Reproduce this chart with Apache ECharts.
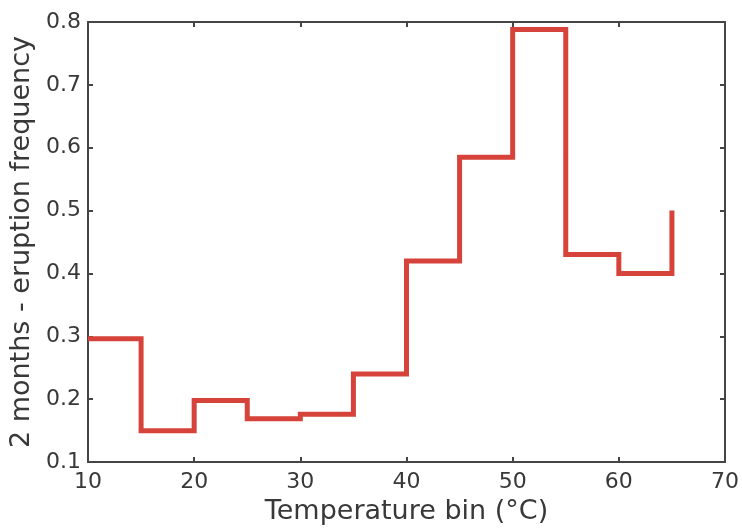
<!DOCTYPE html>
<html>
<head>
<meta charset="utf-8">
<script src="https://cdn.jsdelivr.net/npm/echarts@6/dist/echarts.min.js"></script>
<style>
  html, body { margin: 0; padding: 0; background: #fff; }
  #chart { width: 742px; height: 530px; }
</style>
</head>
<body>
<div id="chart"></div>
<script>
// bin left edges (°C) and stairs values; last point is the closing riser at 65
const binEdges = [10, 15, 20, 25, 30, 35, 40, 45, 50, 55, 60, 65];
const frequency = [0.296, 0.15, 0.198, 0.169, 0.176, 0.24, 0.42, 0.585, 0.788, 0.43, 0.4, 0.5];
const xTicks = [10, 20, 30, 40, 50, 60, 70];
const yTicks = [0.1, 0.2, 0.3, 0.4, 0.5, 0.6, 0.7, 0.8];

const axisColor = '#454545';
const fontFamily = 'DejaVu Sans, sans-serif';
const labelFont = { color: '#383838', fontSize: 22, fontFamily: fontFamily };
const nameFont = { color: '#383838', fontSize: 27, fontFamily: fontFamily };

const chart = echarts.init(document.getElementById('chart'));
const frameLine = { show: true, onZero: false, lineStyle: { color: axisColor, width: 2 } };
const tickIn = { show: true, inside: true, length: 5, lineStyle: { color: axisColor, width: 2 } };

chart.setOption({
  animation: false,
  grid: { left: 88, right: 15, top: 22, bottom: 65 },
  xAxis: [
    {
      type: 'value', min: xTicks[0], max: xTicks[xTicks.length - 1], interval: 10,
      axisLine: frameLine, axisTick: tickIn, splitLine: { show: false },
      axisLabel: Object.assign({ margin: 9 }, labelFont),
      name: 'Temperature bin (°C)', nameLocation: 'middle', nameGap: 34,
      nameTextStyle: nameFont
    },
    {
      type: 'value', position: 'top', min: xTicks[0], max: xTicks[xTicks.length - 1], interval: 10,
      axisLine: frameLine, axisTick: tickIn, axisLabel: { show: false }, splitLine: { show: false }
    }
  ],
  yAxis: [
    {
      type: 'value', min: yTicks[0], max: yTicks[yTicks.length - 1], interval: 0.1,
      axisLine: frameLine, axisTick: tickIn, splitLine: { show: false },
      axisLabel: Object.assign({ margin: 7, formatter: v => v.toFixed(1) }, labelFont),
      name: '2 months - eruption frequency', nameLocation: 'middle', nameGap: 46,
      nameTextStyle: nameFont
    },
    {
      type: 'value', position: 'right', min: yTicks[0], max: yTicks[yTicks.length - 1], interval: 0.1,
      axisLine: frameLine, axisTick: tickIn, axisLabel: { show: false }, splitLine: { show: false }
    }
  ],
  series: [{
    type: 'line',
    step: 'end',
    symbol: 'none',
    lineStyle: { color: '#d6433a', width: 5, join: 'miter' },
    data: binEdges.map((x, i) => [x, frequency[i]])
  }]
});
</script>
</body>
</html>
